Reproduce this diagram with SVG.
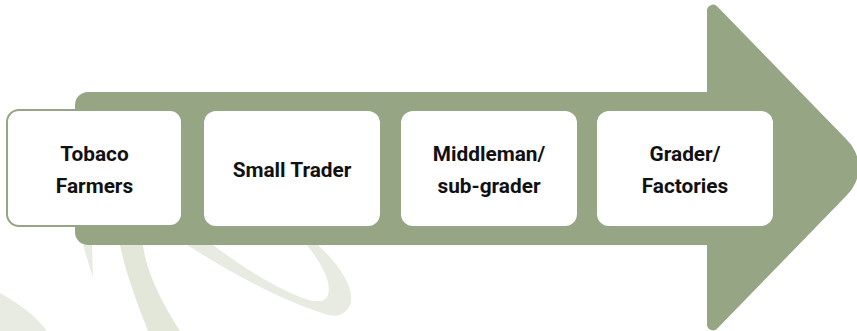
<svg xmlns="http://www.w3.org/2000/svg" width="857" height="331" viewBox="0 0 857 331">
  <style>
    .mark { fill: #e8ebe1; }
    .mark-dark { fill: #e3e7da; }
    .arrow { fill: #96a584; }
    .box { fill: #ffffff; }
    .box-edge { fill: #ffffff; stroke: #96a584; stroke-width: 2; }
    .label { font-family: Roboto, "Liberation Sans", Arial, sans-serif; font-weight: 700; font-size: 20.8px; fill: #111111; text-anchor: middle; }
  </style>

  <rect width="857" height="331" fill="#ffffff"/>

  <!-- faint background swirl -->
  <g id="watermark">
    <path class="mark" d="M0,293 C18,303 35,315 47,331 L0,331 Z"/>
    <path class="mark" d="M83,245 L92,245 L93,278 Z"/>
    <path class="mark-dark" d="M120,245 L143,245 C146,270 160,300 180,331 L148,331 C138,305 126,275 120,245 Z"/>
    <path class="mark" d="M187,245 C230,272 280,300 322,313 C335,318 345,316 350,305 C356,290 340,265 318,245 L307,245 C320,262 332,280 328,295 C325,303 315,303 300,297 C270,285 240,265 213,245 Z"/>
  </g>

  <!-- flow arrow -->
  <g id="flow-arrow">
    <rect class="arrow" x="75" y="92" width="645" height="153" rx="13"/>
    <path class="arrow" d="M707,10.7 A6,6 0 0 1 717.3,6.5 L846.1,138.9 A39,39 0 0 1 846.1,196.1 L717.3,328.5 A6,6 0 0 1 707,324.3 Z"/>
  </g>

  <g id="tobacco-farmers">
    <rect class="box-edge" x="7" y="110" width="175" height="116" rx="12"/>
    <text class="label" x="94.5" y="161">Tobaco</text>
    <text class="label" x="94.5" y="193">Farmers</text>
  </g>

  <g id="small-trader">
    <rect class="box" x="204" y="111" width="176" height="115" rx="12"/>
    <text class="label" x="292" y="177">Small Trader</text>
  </g>

  <g id="middleman">
    <rect class="box" x="401" y="111" width="176" height="115" rx="12"/>
    <text class="label" x="489" y="161">Middleman/</text>
    <text class="label" x="489" y="193">sub-grader</text>
  </g>

  <g id="grader-factories">
    <rect class="box" x="597" y="111" width="176" height="115" rx="12"/>
    <text class="label" x="685" y="161">Grader/</text>
    <text class="label" x="685" y="193">Factories</text>
  </g>
</svg>
